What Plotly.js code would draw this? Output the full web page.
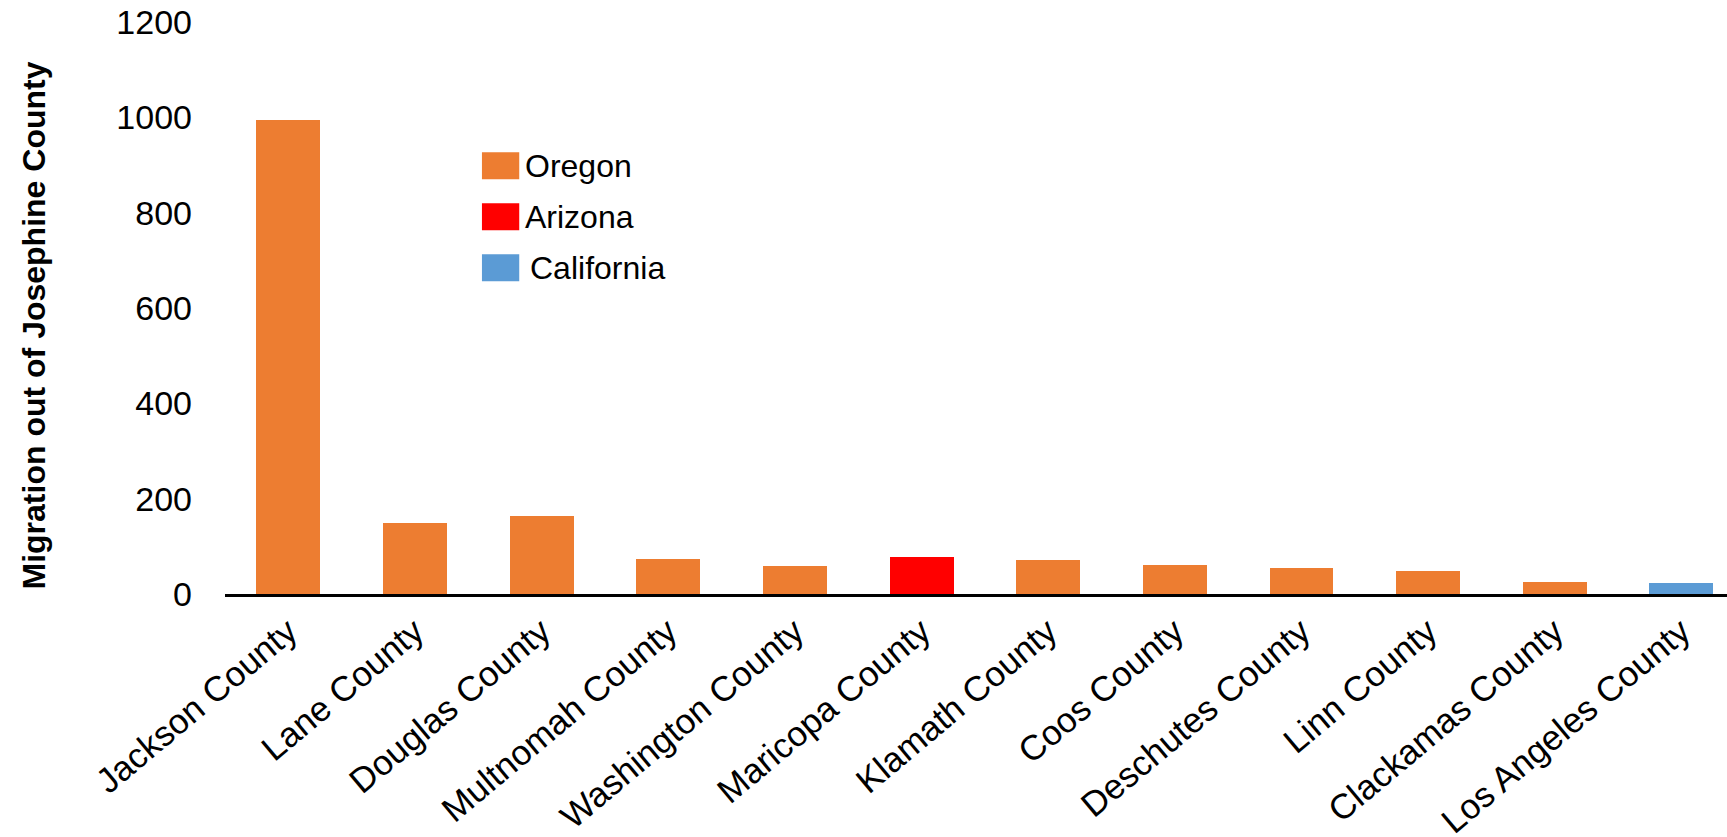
<!DOCTYPE html>
<html>
<head>
<meta charset="utf-8">
<script src="https://cdn.plot.ly/plotly-3.0.1.min.js"></script>
<style>html,body{margin:0;padding:0;overflow:hidden;background:#fff}</style>
</head>
<body>
<div id="chart" style="width:1727px;height:837px"></div>
<script>
// ---- data ----
const counties = ["Jackson County","Lane County","Douglas County","Multnomah County","Washington County","Maricopa County","Klamath County","Coos County","Deschutes County","Linn County","Clackamas County","Los Angeles County"];
const migration = [995, 150, 163, 73, 58, 78, 71, 60, 55, 49, 26, 24];
const countyState = ["Oregon","Oregon","Oregon","Oregon","Oregon","Arizona","Oregon","Oregon","Oregon","Oregon","Oregon","California"];
const states = ["Oregon","Arizona","California"];
const yTicks = [0, 200, 400, 600, 800, 1000, 1200];
const yTitle = "Migration out of Josephine County";

// ---- style ----
const COLORS = {Oregon: "#ED7D31", Arizona: "#FF0000", California: "#5B9BD5"};
const FONT = "Liberation Sans, Arial, Helvetica, sans-serif";
const W = 1727, H = 837, ML = 224.7, MR = 0, MT = 21.7, MB = 243;
const plotW = W - ML - MR, plotH = H - MT - MB;
const px2x = px => (px - ML) / plotW;
const px2y = py => 1 - (py - MT) / plotH;

const traces = states.map(s => {
  const xs = [], ys = [];
  counties.forEach((c, i) => { if (countyState[i] === s) { xs.push(c); ys.push(migration[i]); } });
  return {type: "bar", name: s, x: xs, y: ys, marker: {color: COLORS[s]}, showlegend: false};
});

// legend drawn as shapes + annotations (large swatches as in the reference)
const shapes = [], annotations = [];
states.forEach((s, i) => {
  const yc = 165.5 + i * 51;
  shapes.push({type: "rect", xref: "paper", yref: "paper",
    x0: px2x(481.7), x1: px2x(519), y0: px2y(yc + 13.5), y1: px2y(yc - 13.5),
    fillcolor: COLORS[s], line: {width: 0}});
  annotations.push({xref: "paper", yref: "paper", x: px2x(523 + (i === 2 ? 5 : 0)), y: px2y(yc),
    xanchor: "left", yanchor: "middle", showarrow: false, text: s,
    font: {family: FONT, size: 32, color: "#000"}});
});

// y-axis title (placed as rotated text, centred where the reference puts it)
annotations.push({xref: "paper", yref: "paper", x: px2x(34), y: px2y(325), xanchor: "center", yanchor: "middle",
  textangle: -90, showarrow: false, text: yTitle,
  font: {family: FONT, size: 32, weight: 700, color: "#000"}});

const layout = {
  width: W, height: H,
  margin: {l: ML, r: MR, t: MT, b: MB, pad: 0},
  paper_bgcolor: "#fff", plot_bgcolor: "#fff",
  barmode: "stack", bargap: 0.495,
  showlegend: false,
  font: {family: FONT, color: "#000"},
  xaxis: {
    type: "category", categoryorder: "array", categoryarray: counties,
    range: [-0.5, 11.36], automargin: false,
    tickangle: -40, tickfont: {family: FONT, size: 35, color: "#000"},
    showline: true, linecolor: "#000", linewidth: 3,
    showgrid: false, zeroline: false, ticks: "", ticklabelstandoff: 0
  },
  yaxis: {
    range: [0, 1200], tickvals: yTicks, ticktext: yTicks.map(String), automargin: false,
    tickfont: {family: FONT, size: 34, color: "#000"},
    showline: false, showgrid: false, zeroline: false, ticks: "", ticklabelstandoff: 32
  },
  shapes: shapes, annotations: annotations
};

Plotly.newPlot("chart", traces, layout, {displayModeBar: false, staticPlot: true});
</script>
</body>
</html>
